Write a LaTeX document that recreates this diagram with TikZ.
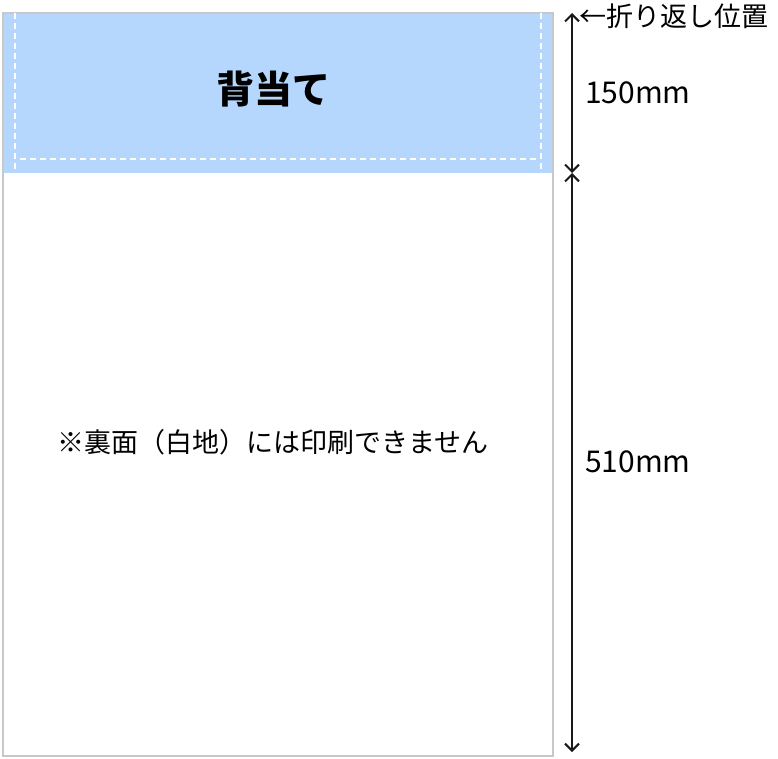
\documentclass[tikz,border=0pt]{standalone}
\usepackage{fontspec}
\setmainfont{Noto Sans CJK JP}
\usetikzlibrary{arrows.meta}
\definecolor{azulfondo}{RGB}{181,215,254}
\definecolor{grisborde}{RGB}{200,200,200}
\begin{document}
\begin{tikzpicture}[x=1pt,y=-1pt,
        cota/.style={{Straight Barb[length=7pt,width=14pt]}-{Straight Barb[length=7pt,width=14pt]}, line width=2pt, black!90},
        guia/.style={white, line width=1.5pt, dash pattern=on 6pt off 4pt},
        texto/.style={font=\fontsize{27}{30}\selectfont, inner sep=0pt},
        medida/.style={font=\fontsize{30}{32}\selectfont, inner sep=0pt, anchor=west}]
        \useasboundingbox (0,0) rectangle (778,758);
        % Dibuja la hoja con la zona del doblez
        \fill[azulfondo] (3,13) rectangle (553,173);
        \draw[grisborde, line width=1.8pt] (3,13) rectangle (553,756);
        \draw[guia] (15,13) -- (15,173);
        \draw[guia] (541,13) -- (541,173);
        \draw[guia] (20,159) -- (536,159);
        \node[texto, font=\fontsize{38}{40}\selectfont\bfseries] (titulo) at (273,89) {背当て};
        \node[texto] (aviso) at (273,442) {※裏面（白地）には印刷できません};
        % Cotas
        \coordinate (arriba) at (572,13);
        \coordinate (pliegue) at (572,173);
        \coordinate (abajo) at (572,752);
        \draw[cota] (arriba) -- (pliegue);
        \draw[cota] (pliegue) -- (abajo);
        \node[texto, anchor=west] (posicion) at (579,16) {←折り返し位置};
        \node[medida] (medida1) at (585,93) {150mm};
        \node[medida] (medida2) at (585,462) {510mm};
    \end{tikzpicture}
\end{document}
